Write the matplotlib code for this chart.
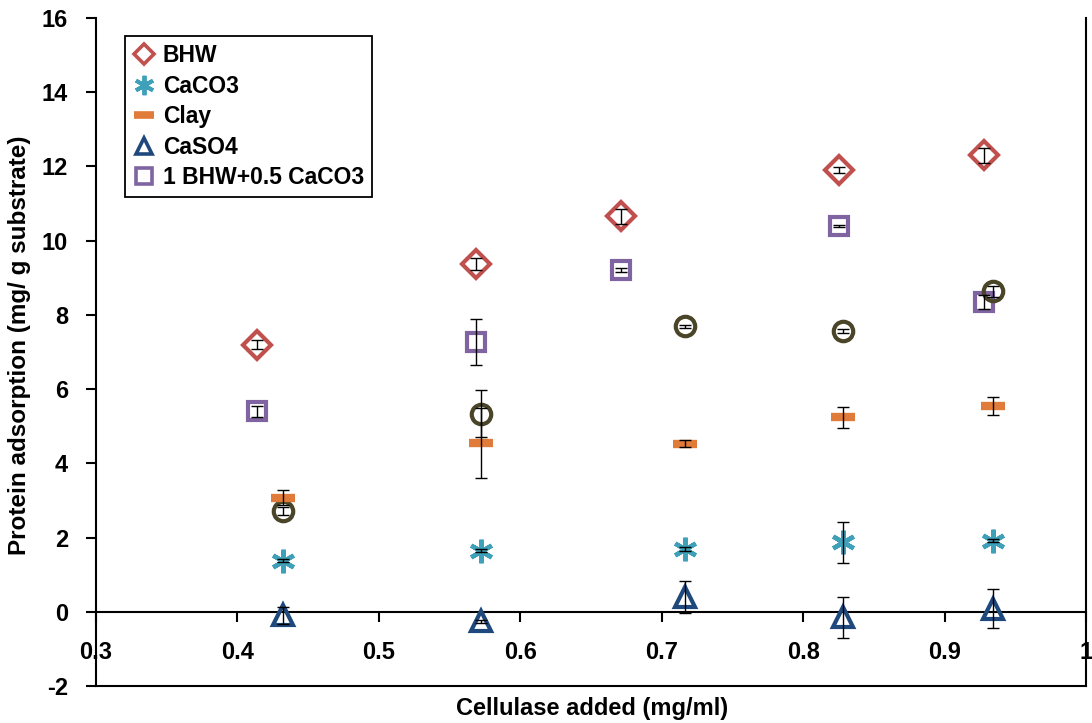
import matplotlib
matplotlib.use("Agg")
import matplotlib.pyplot as plt
from matplotlib.lines import Line2D

# ---- data ----
x_bhw = [0.414, 0.5685, 0.671, 0.825, 0.928]
bhw = [7.20, 9.37, 10.66, 11.91, 12.30]
bhw_err = [0.12, 0.15, 0.20, 0.08, 0.20]

mix = [5.40, 7.28, 9.21, 10.39, 8.35]
mix_err = [0.15, 0.62, 0.05, 0.03, 0.18]

x_other = [0.432, 0.572, 0.7165, 0.828, 0.934]
caco3 = [1.38, 1.65, 1.69, 1.87, 1.92]
caco3_err = [0.05, 0.05, 0.05, 0.55, 0.05]

clay = [3.07, 4.55, 4.53, 5.24, 5.54]
clay_err = [0.20, 0.95, 0.10, 0.28, 0.25]

caso4 = [-0.10, -0.26, 0.40, -0.15, 0.08]
caso4_err = [0.22, 0.05, 0.42, 0.56, 0.53]

circ = [2.72, 5.34, 7.69, 7.56, 8.64]
circ_err = [0.10, 0.63, 0.05, 0.05, 0.15]

xticks = [0.3, 0.4, 0.5, 0.6, 0.7, 0.8, 0.9, 1.0]
xticklabels = ["0.3", "0.4", "0.5", "0.6", "0.7", "0.8", "0.9", "1"]
yticks = [-2, 0, 2, 4, 6, 8, 10, 12, 14, 16]

labels = ["BHW", "CaCO3", "Clay", "CaSO4", "1 BHW+0.5 CaCO3"]

plt.rcParams['font.family'] = ['Liberation Sans', 'DejaVu Sans']
plt.rcParams['font.weight'] = 'bold'
plt.rcParams['axes.unicode_minus'] = False

W, H = 1092, 723
fig = plt.figure(figsize=(W / 100, H / 100), dpi=100)
L, R, T, B = 96, 1086, 18, 686
ax = fig.add_axes([L / W, 1 - B / H, (R - L) / W, (B - T) / H])
ax.set_xlim(0.3, 1.0)
ax.set_ylim(-2, 16)

c_red = '#C0504D'
c_teal = '#3FA0BA'
c_orange = '#E07B39'
c_navy = '#1F497D'
c_purple = '#8064A2'
c_olive = '#4A4528'

mew = 3.0
ax.plot(x_bhw, bhw, ls='none', marker='D', ms=14, mfc='none', mec=c_red, mew=mew, zorder=3)
ax.plot(x_bhw, mix, ls='none', marker='s', ms=13, mfc='none', mec=c_purple, mew=mew, zorder=3)
ax.plot(x_other, circ, ls='none', marker='o', ms=14, mfc='none', mec=c_olive, mew=mew, zorder=3)
ax.plot(x_other, clay, ls='none', marker='_', ms=17, mec=c_orange, mew=6, zorder=3)
ax.plot(x_other, caco3, ls='none', marker=(6, 2, 0), ms=17, mec=c_teal, mew=3.2, zorder=3)
ax.plot(x_other, caso4, ls='none', marker='^', ms=14, mfc='none', mec=c_navy, mew=mew, zorder=3)

ekw = dict(fmt='none', ecolor='black', elinewidth=1.0, capsize=4, capthick=1.0, zorder=5)
ax.errorbar(x_bhw, bhw, yerr=bhw_err, **ekw)
ax.errorbar(x_bhw, mix, yerr=mix_err, **ekw)
ax.errorbar(x_other, circ, yerr=circ_err, **ekw)
ax.errorbar(x_other, clay, yerr=clay_err, **ekw)
ax.errorbar(x_other, caco3, yerr=caco3_err, **ekw)
ax.errorbar(x_other, caso4, yerr=caso4_err, **ekw)

# axes styling
ax.spines['bottom'].set_position(('data', 0))
ax.spines['top'].set_visible(False)
for s in ['left', 'bottom', 'right']:
    ax.spines[s].set_linewidth(1.5)
    ax.spines[s].set_color('black')
ax.axhline(-2, color='black', lw=1.5, clip_on=False, zorder=2)

ax.set_xticks(xticks)
ax.set_xticklabels(xticklabels)
ax.set_yticks(yticks)
ax.tick_params(axis='x', direction='out', length=7, width=1.5, pad=14, labelsize=17)
ax.tick_params(axis='y', direction='out', length=7, width=1.5, pad=13, labelsize=17, right=False)
for lab in ax.get_xticklabels() + ax.get_yticklabels():
    lab.set_fontweight('bold')

fig.text(592 / W, 1 - 708 / H, "Cellulase added (mg/ml)", ha='center', va='center',
         fontsize=17, fontweight='bold')
fig.text(20 / W, 1 - 345 / H, "Protein adsorption (mg/ g substrate)", ha='center', va='center',
         rotation=90, fontsize=17.5, fontweight='bold')

handles = [
    Line2D([], [], ls='none', marker='D', ms=10, mfc='none', mec=c_red, mew=2.6),
    Line2D([], [], ls='none', marker=(6, 2, 0), ms=14, mec=c_teal, mew=2.8),
    Line2D([], [], ls='none', marker='_', ms=14, mec=c_orange, mew=5.5),
    Line2D([], [], ls='none', marker='^', ms=12, mfc='none', mec=c_navy, mew=2.6),
    Line2D([], [], ls='none', marker='s', ms=12, mfc='none', mec=c_purple, mew=2.6),
]
leg = ax.legend(handles, labels, loc='upper left',
                bbox_to_anchor=((125 - L) / (R - L), (B - 36) / (B - T)),
                borderaxespad=0, frameon=True, fancybox=False, framealpha=1,
                edgecolor='black', prop={'weight': 'bold', 'size': 16.5},
                handlelength=1.0, handletextpad=0.3, labelspacing=0.33,
                borderpad=0.35)
leg.get_frame().set_linewidth(1.3)

fig.savefig("out.png", dpi=100)
